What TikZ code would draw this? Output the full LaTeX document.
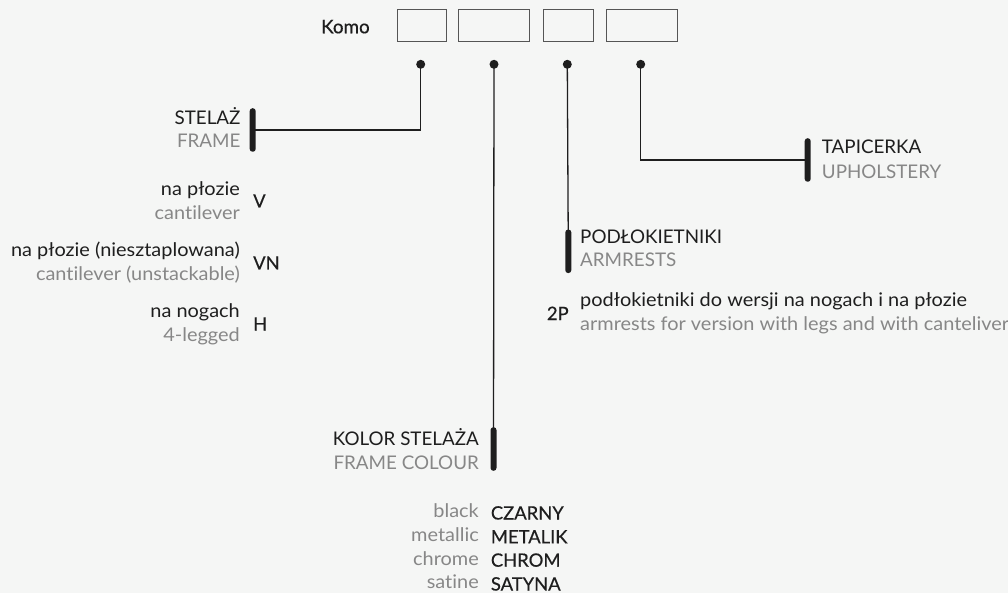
\documentclass[tikz,border=0pt]{standalone}
\usepackage{fontspec}
\setmainfont{Lato}[Ligatures=NoCommon]
\newfontfamily\lowf{Lato}[FakeStretch=1.06,Ligatures=NoCommon]
\newfontfamily\codef{Lato}[FakeBold=0.5,Ligatures=NoCommon]
\definecolor{bg}{HTML}{F5F6F5}
\definecolor{ink}{HTML}{1E1E1E}
\definecolor{soft}{HTML}{878787}
\definecolor{boxc}{HTML}{555555}
\begin{document}
\begin{tikzpicture}[x=1pt,y=-1pt,
  lab/.style={inner sep=0pt,text=ink,font=\fontsize{18.8}{19}\selectfont},
  sub/.style={inner sep=0pt,text=soft,font=\fontsize{18.8}{19}\selectfont},
  lowlab/.style={inner sep=0pt,text=ink,font=\lowf\fontsize{18.8}{19}\selectfont},
  lowsub/.style={inner sep=0pt,text=soft,font=\lowf\fontsize{18.8}{19}\selectfont},
  code/.style={inner sep=0pt,text=ink,font=\codef\fontsize{18.4}{19}\selectfont},
  slot/.style={draw=boxc,line width=0.9pt,inner sep=0pt,minimum height=32pt,anchor=north west},
  dot/.style={circle,fill=ink,inner sep=0pt,minimum size=9pt},
  bar/.style={rectangle,rounded corners=2.8pt,fill=ink,inner sep=0pt,minimum width=6pt,minimum height=43.5pt},
  wire/.style={draw=ink,line width=1.3pt}]
\fill[bg] (0,0) rectangle (1008,593);
\useasboundingbox (0,0) rectangle (1008,593);
% header
\node[code,anchor=base west,font=\codef\fontsize{18.8}{19}\selectfont] (komo) at (321,33.3) {Komo};
\node[slot,minimum width=49pt] (k1) at (396.7,9.5) {};
\node[slot,minimum width=70.7pt] (k2) at (458.3,9.5) {};
\node[slot,minimum width=49.7pt] (k3) at (543,9.5) {};
\node[slot,minimum width=70.7pt] (k4) at (606,9.5) {};
% dots
\node[dot] (d1) at (420.7,64.3) {};
\node[dot] (d2) at (494,64.3) {};
\node[dot] (d3) at (567.3,64.3) {};
\node[dot] (d4) at (640.7,64.3) {};
% bars
\node[bar] (b1) at (252.7,130) {};
\node[bar] (b2) at (493.5,449) {};
\node[bar] (b3) at (568.3,251.3) {};
\node[bar] (b4) at (807.7,160) {};
% wires
\draw[wire] (d1.center) |- (b1.center);
\draw[wire] (d2.center) -- (b2.center);
\draw[wire] (d3.center) -- (b3.center);
\draw[wire] (d4.center) |- (b4.center);
% frame
\node[lab,anchor=base east] (t1) at (240.7,124.3) {STELAŻ};
\node[sub,anchor=base east] (s1) at (240.7,147.7) {FRAME};
\node[lowlab,anchor=base east] (o1a) at (240,196) {na płozie};
\node[lowsub,anchor=base east] (o1b) at (240,220) {cantilever};
\node[code,anchor=base west] (c1) at (253,207.5) {V};
\node[lowlab,anchor=base east] (o2a) at (240,257) {na płozie (niesztaplowana)};
\node[lowsub,anchor=base east] (o2b) at (240,280.5) {cantilever (unstackable)};
\node[code,anchor=base west] (c2) at (253,269.5) {VN};
\node[lowlab,anchor=base east] (o3a) at (240,317) {na nogach};
\node[lowsub,anchor=base east] (o3b) at (240,341) {4-legged};
\node[code,anchor=base west] (c3) at (253,330.5) {H};
% frame colour
\node[lab,anchor=base east] (t2) at (479,445) {KOLOR STELAŻA};
\node[sub,anchor=base east] (s2) at (479,469.3) {FRAME COLOUR};
\node[lowsub,anchor=base east] (f1) at (479,517.3) {black};
\node[lowsub,anchor=base east] (f2) at (479,541.5) {metallic};
\node[lowsub,anchor=base east] (f3) at (479,565) {chrome};
\node[lowsub,anchor=base east] (f4) at (479,588.3) {satine};
\node[code,anchor=base west] (g1) at (490.7,519.5) {CZARNY};
\node[code,anchor=base west] (g2) at (490.7,543.3) {METALIK};
\node[code,anchor=base west] (g3) at (490.7,566.7) {CHROM};
\node[code,anchor=base west] (g4) at (490.7,590.5) {SATYNA};
% armrests
\node[lab,anchor=base west] (t3) at (580,243.5) {PODŁOKIETNIKI};
\node[sub,anchor=base west] (s3) at (580,267) {ARMRESTS};
\node[code,anchor=base west] (c4) at (546.7,320) {2P};
\node[lowlab,anchor=base west] (a1) at (580,306) {podłokietniki do wersji na nogach i na płozie};
\node[lowsub,anchor=base west] (a2) at (580,330) {armrests for version with legs and with canteliver};
% upholstery
\node[lab,anchor=base west] (t4) at (821.7,154) {TAPICERKA};
\node[sub,anchor=base west] (s4) at (821.7,178.3) {UPHOLSTERY};
\end{tikzpicture}
\end{document}
